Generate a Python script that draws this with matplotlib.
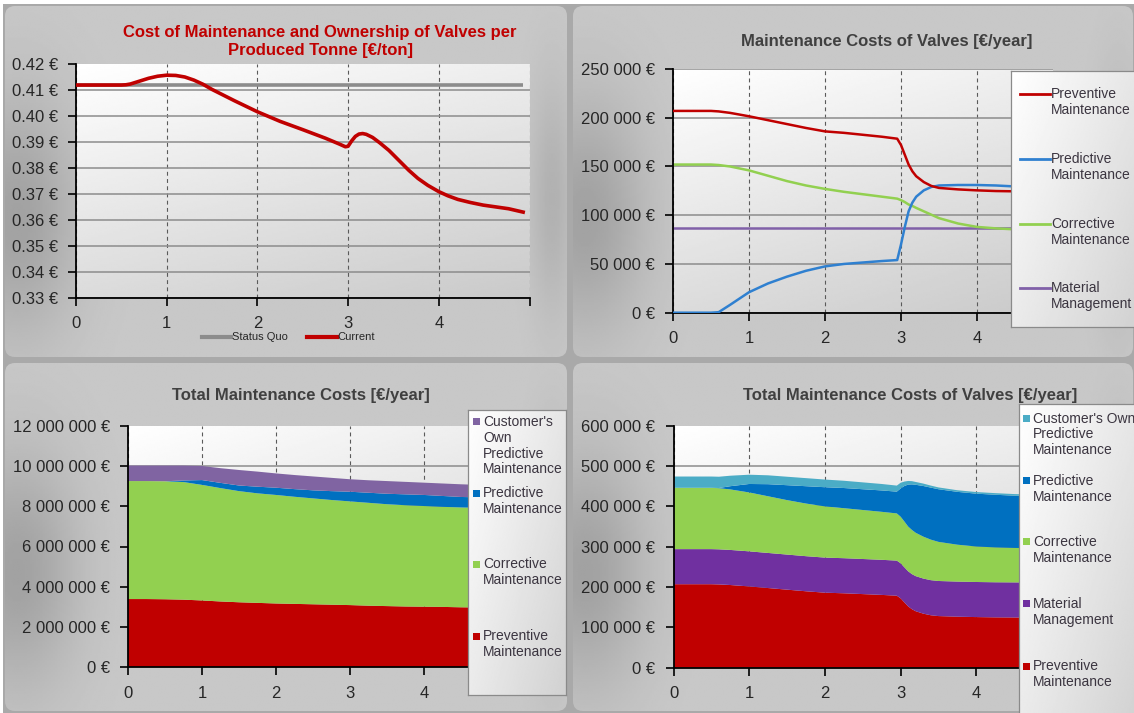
import numpy as np
import matplotlib.pyplot as plt
from matplotlib.patches import FancyBboxPatch, Rectangle
from matplotlib.lines import Line2D
from matplotlib.ticker import FuncFormatter

plt.rcParams['font.family'] = ['Liberation Sans', 'DejaVu Sans']

W, H = 1134, 713

# ------------------------------------------------------------------
# Data
# ------------------------------------------------------------------
# cost per produced tonne [EUR/ton]
t_tonne = [0, 0.25, 0.5, 0.55, 0.6, 0.7, 0.8, 0.9, 1.0, 1.1, 1.2, 1.3,
           1.4, 1.5, 1.75, 2.0, 2.25, 2.5, 2.75, 2.9, 2.97, 3.0, 3.04, 3.08,
           3.12, 3.16, 3.2, 3.27, 3.35, 3.45, 3.57, 3.67, 3.77, 3.88, 4.0,
           4.1, 4.21, 4.35, 4.49, 4.63, 4.77, 4.93]
current_tonne = [0.412, 0.412, 0.412, 0.4121, 0.4124, 0.4135, 0.4146,
                 0.4154, 0.4158, 0.4157, 0.4151, 0.4139, 0.4123, 0.4103,
                 0.4059, 0.4017, 0.398, 0.3948, 0.3915, 0.3893, 0.3882,
                 0.3884, 0.3905, 0.3922, 0.3931, 0.3933, 0.3930, 0.3918,
                 0.3897, 0.3868, 0.3826, 0.3791, 0.3760, 0.3733, 0.3709,
                 0.3693, 0.3679, 0.3667, 0.3657, 0.3650, 0.3643, 0.3630]
t_status_quo = [0, 4.93]
status_quo_tonne = [0.412, 0.412]

# valve maintenance costs [EUR/year]
t_valves = [0, 0.25, 0.5, 0.6, 0.75, 1.0, 1.25, 1.5, 1.75, 2.0, 2.25, 2.5,
            2.75, 2.95, 3.0, 3.05, 3.1, 3.15, 3.2, 3.3, 3.4, 3.5, 3.75, 4.0,
            4.25, 4.5, 4.75, 4.95]
preventive_valves = [207000, 207000, 207000, 206500, 205000, 201500, 197500,
                     193500, 189500, 186000, 184500, 182500, 180500, 178500,
                     172000, 162000, 152000, 145000, 140000, 134000, 130000,
                     128000, 126500, 125500, 124800, 124500, 124300, 124200]
predictive_valves = [0, 0, 0, 500, 8000, 21000, 30000, 37000, 43000, 47500,
                     50000, 51500, 53000, 54000, 70000, 88000, 104000, 113000,
                     119000, 125500, 129000, 130500, 131000, 131000, 130500,
                     129500, 129000, 129000]
corrective_valves = [152000, 152000, 152000, 151500, 150000, 146000, 140500,
                     135000, 130500, 127000, 124000, 121500, 119000, 117000,
                     115500, 113500, 111000, 109500, 107500, 104000, 100500,
                     97000, 91500, 88000, 86500, 85500, 85000, 84800]
material_valves = [87000, 87000, 87000, 87000, 87000, 87000, 87000, 87000,
                   87000, 87000, 87000, 87000, 87000, 87000, 87000, 87000,
                   87000, 87000, 87000, 87000, 87000, 87000, 87000, 87000,
                   87000, 87000, 87000, 87000]
customer_own_valves = [28000, 28000, 28000, 28000, 26000, 23000, 22000, 21000,
                       20000, 19000, 18000, 17000, 16000, 15000, 14000, 11000,
                       9000, 8000, 7000, 6000, 5000, 4500, 4000, 4000, 4000,
                       4000, 4000, 4000]

# total maintenance costs [EUR/year]
t_total = [0, 0.25, 0.5, 0.75, 1.0, 1.25, 1.5, 1.75, 2.0, 2.25, 2.5, 2.75,
           3.0, 3.25, 3.5, 3.75, 4.0, 4.25, 4.5, 4.75, 4.95]
preventive_total = [3.39e6, 3.39e6, 3.38e6, 3.36e6, 3.32e6, 3.27e6, 3.23e6,
                    3.20e6, 3.17e6, 3.15e6, 3.13e6, 3.11e6, 3.09e6, 3.06e6,
                    3.04e6, 3.02e6, 3.01e6, 3.00e6, 2.98e6, 2.97e6, 2.96e6]
corrective_total = [5.86e6, 5.86e6, 5.86e6, 5.84e6, 5.74e6, 5.63e6, 5.52e6,
                    5.44e6, 5.39e6, 5.32e6, 5.26e6, 5.20e6, 5.15e6, 5.11e6,
                    5.06e6, 5.03e6, 5.00e6, 4.97e6, 4.96e6, 4.95e6, 4.94e6]
predictive_total = [0, 0, 0, 0.08e6, 0.24e6, 0.26e6, 0.28e6, 0.33e6, 0.36e6,
                    0.38e6, 0.40e6, 0.44e6, 0.48e6, 0.50e6, 0.52e6, 0.54e6,
                    0.55e6, 0.54e6, 0.52e6, 0.52e6, 0.52e6]
customer_own_total = [0.77e6, 0.77e6, 0.78e6, 0.74e6, 0.70e6, 0.73e6, 0.77e6,
                      0.75e6, 0.71e6, 0.70e6, 0.69e6, 0.66e6, 0.62e6, 0.62e6,
                      0.63e6, 0.62e6, 0.61e6, 0.62e6, 0.63e6, 0.62e6, 0.62e6]

RED = '#c00000'
GREEN = '#92d050'
BLUE_LINE = '#2f80d0'
BLUE = '#0070c0'
PURPLE_LINE = '#8060a8'
PURPLE = '#7030a0'
PURPLE_LIGHT = '#8064a2'
TEAL = '#4bacc6'
TEXT = '#262626'
TITLE = '#404040'
LEG_TEXT = '#3b3540'


def frect(x0, y0, x1, y1):
    """pixel box (top-left origin) -> figure fraction rect"""
    return [x0 / W, 1 - y1 / H, (x1 - x0) / W, (y1 - y0) / H]


def euro_thousands(v, _):
    return f"{int(round(v)):,}".replace(",", " ") + " €"


fig = plt.figure(figsize=(W / 100, H / 100), dpi=100, facecolor='white')
fig.add_artist(Rectangle((3 / W, 0), 1, 1 - 4 / H, transform=fig.transFigure,
                         facecolor='#a9a9a9', edgecolor='none', zorder=-10))


def draw_panel(x0, y0, x1, y1):
    bg = fig.add_axes(frect(x0, y0, x1, y1), zorder=0)
    w, h = x1 - x0, y1 - y0
    u = np.linspace(0, 1, 300)
    v = np.linspace(0, 1, 200)
    U, V = np.meshgrid(u, v)
    g = (0.785
         - 0.15 * np.exp(-((U - 0.02) / 0.11) ** 2) * np.exp(-((V - 0.6) / 0.34) ** 2)
         - 0.09 * np.exp(-((U - 0.975) / 0.04) ** 2) * np.exp(-((V - 0.55) / 0.34) ** 2))
    im = bg.imshow(g, cmap='gray', vmin=0, vmax=1, extent=[0, w, h, 0],
                   aspect='auto', interpolation='bilinear')
    box = FancyBboxPatch((0, 0), w, h, boxstyle='round,pad=0,rounding_size=10',
                         facecolor='none', edgecolor='none')
    bg.add_patch(box)
    im.set_clip_path(box)
    bg.set_xlim(0, w)
    bg.set_ylim(h, 0)
    bg.axis('off')


def plot_axes(x0, y0, x1, y1):
    ax = fig.add_axes(frect(x0, y0, x1, y1), zorder=1)
    ax.set_facecolor('none')
    u = np.linspace(0, 1, 200)
    v = np.linspace(1, 0, 120)
    U, V = np.meshgrid(u, v)
    g = 1 - 0.14 * (1 - V) - 0.07 * U
    ax.imshow(g, cmap='gray', vmin=0, vmax=1, extent=[0, 1, 0, 1],
              transform=ax.transAxes, aspect='auto', zorder=-1,
              interpolation='bilinear')
    ax.set_axisbelow(True)
    for s in ('top', 'right'):
        ax.spines[s].set_visible(False)
    for s in ('left', 'bottom'):
        ax.spines[s].set_color('black')
        ax.spines[s].set_linewidth(1.3)
    ax.tick_params(axis='y', length=5.5, width=1.2, pad=7.5, labelsize=12,
                   labelcolor=TEXT)
    ax.tick_params(axis='x', length=5.5, width=1.2, pad=8, labelsize=12,
                   labelcolor=TEXT)
    ax.set_xlim(0, 5)
    ax.set_xticks([0, 1, 2, 3, 4, 5])
    ax.set_xticklabels(['0', '1', '2', '3', '4', ''])
    ax.yaxis.grid(True, color='#8c8c8c', linewidth=1.1)
    ax.xaxis.grid(True, color='#5a5a5a', linewidth=0.8, linestyle=(0, (3.5, 3)))
    return ax


def legend_box(x0, y0, x1, y1):
    lax = fig.add_axes(frect(x0, y0, x1, y1), zorder=3)
    u = np.linspace(0, 1, 100)
    v = np.linspace(0, 1, 200)
    U, V = np.meshgrid(u, v)
    g = 1 - 0.10 * U - 0.08 * V
    lax.imshow(g, cmap='gray', vmin=0, vmax=1, extent=[x0, x1, y1, y0],
               aspect='auto', interpolation='bilinear')
    lax.set_xlim(x0, x1)
    lax.set_ylim(y1, y0)
    lax.set_xticks([])
    lax.set_yticks([])
    for s in lax.spines.values():
        s.set_color('#8a8a8a')
        s.set_linewidth(0.9)
    return lax


def legend_text(lax, x, y, label):
    n = label.count('\n') + 1
    lax.text(x, y + 8 * (n - 1), label, fontsize=10, color=LEG_TEXT,
             ha='left', va='center', linespacing=1.15)


# ------------------------------------------------------------------
# Panels
# ------------------------------------------------------------------
draw_panel(5, 6, 567, 357)
draw_panel(573, 6, 1133, 357)
draw_panel(5, 363, 567, 711)
draw_panel(573, 363, 1133, 711)

# --- top-left: cost per produced tonne --------------------------------
ax1 = plot_axes(76, 64.3, 76 + 5 * 90.7, 297.7)
ax1.plot(t_status_quo, status_quo_tonne, color='#8c8c8c', linewidth=2.6,
         zorder=2, solid_capstyle='butt')
ax1.plot(t_tonne, current_tonne, color=RED, linewidth=2.6, zorder=3)
ax1.set_ylim(0.33, 0.42)
ax1.set_yticks(np.arange(0.33, 0.4201, 0.01))
ax1.yaxis.set_major_formatter(FuncFormatter(lambda v, _: f"{v:.2f} €"))
ax1.yaxis.get_gridlines()[-1].set_visible(False)

fig.text(320 / W, 1 - 41.5 / H,
         "Cost of Maintenance and Ownership of Valves per\nProduced Tonne [€/ton]",
         ha='center', va='center', fontsize=12, fontweight='bold', color=RED,
         linespacing=1.3)

fig.add_artist(Line2D([202 / W, 231 / W], [1 - 337.3 / H] * 2,
                      color='#8c8c8c', linewidth=3, transform=fig.transFigure))
fig.text(232 / W, 1 - 337.3 / H, "Status Quo", fontsize=8, color=TEXT,
         ha='left', va='center')
fig.add_artist(Line2D([306.5 / W, 336.5 / W], [1 - 337.3 / H] * 2,
                      color=RED, linewidth=3, transform=fig.transFigure))
fig.text(337 / W, 1 - 337.3 / H, "Current", fontsize=8, color=TEXT,
         ha='left', va='center')

# --- top-right: maintenance costs of valves ---------------------------
ax2 = plot_axes(673, 69, 673 + 5 * 76, 312.7)
ax2.plot(t_valves, material_valves, color=PURPLE_LINE, linewidth=1.8, zorder=2)
ax2.plot(t_valves, corrective_valves, color=GREEN, linewidth=1.8, zorder=2)
ax2.plot(t_valves, predictive_valves, color=BLUE_LINE, linewidth=1.8, zorder=3)
ax2.plot(t_valves, preventive_valves, color=RED, linewidth=1.8, zorder=3)
ax2.set_ylim(0, 250000)
ax2.set_yticks(np.arange(0, 250001, 50000))
ax2.yaxis.set_major_formatter(FuncFormatter(euro_thousands))

fig.text(887 / W, 1 - 41.7 / H, "Maintenance Costs of Valves [€/year]",
         ha='center', va='center', fontsize=12, fontweight='bold', color=TITLE)

lg2 = legend_box(1011, 70.7, 1140, 326.7)
for y, col, lab in [(94.3, RED, "Preventive\nMaintenance"),
                    (159.3, BLUE_LINE, "Predictive\nMaintenance"),
                    (224.0, GREEN, "Corrective\nMaintenance"),
                    (288.3, PURPLE_LINE, "Material\nManagement")]:
    lg2.plot([1020, 1050], [y, y], color=col, linewidth=2)
    legend_text(lg2, 1051, y, lab)

# --- bottom-left: total maintenance costs -----------------------------
ax3 = plot_axes(128, 425.7, 128 + 5 * 74, 667.3)
ax3.stackplot(t_total, preventive_total, corrective_total, predictive_total,
              customer_own_total, colors=[RED, GREEN, BLUE, PURPLE_LIGHT],
              linewidth=0)
ax3.set_ylim(0, 12e6)
ax3.set_yticks(np.arange(0, 12e6 + 1, 2e6))
ax3.yaxis.set_major_formatter(FuncFormatter(euro_thousands))
ax3.yaxis.get_gridlines()[-1].set_visible(False)

fig.text(300.5 / W, 1 - 395.7 / H, "Total Maintenance Costs [€/year]",
         ha='center', va='center', fontsize=12, fontweight='bold', color=TITLE)

lg3 = legend_box(468, 410, 566, 695)
for y, col, lab in [(421.7, PURPLE_LIGHT, "Customer's\nOwn\nPredictive\nMaintenance"),
                    (493.3, BLUE, "Predictive\nMaintenance"),
                    (564.3, GREEN, "Corrective\nMaintenance"),
                    (636.0, RED, "Preventive\nMaintenance")]:
    lg3.add_patch(Rectangle((473, y - 3.5), 7, 7, facecolor=col, edgecolor='none'))
    legend_text(lg3, 483, y, lab)

# --- bottom-right: total maintenance costs of valves ------------------
ax4 = plot_axes(673.5, 425.7, 673.5 + 5 * 75.7, 667.7)
ax4.stackplot(t_valves, preventive_valves, material_valves, corrective_valves,
              predictive_valves, customer_own_valves,
              colors=[RED, PURPLE, GREEN, BLUE, TEAL], linewidth=0)
ax4.set_ylim(0, 600000)
ax4.set_yticks(np.arange(0, 600001, 100000))
ax4.yaxis.set_major_formatter(FuncFormatter(euro_thousands))
ax4.yaxis.get_gridlines()[-1].set_visible(False)

fig.text(910 / W, 1 - 395.7 / H, "Total Maintenance Costs of Valves [€/year]",
         ha='center', va='center', fontsize=12, fontweight='bold', color=TITLE)

lg4 = legend_box(1019, 404.3, 1140, 720)
for y, col, lab in [(418.3, TEAL, "Customer's Own\nPredictive\nMaintenance"),
                    (480.7, BLUE, "Predictive\nMaintenance"),
                    (541.7, GREEN, "Corrective\nMaintenance"),
                    (603.7, PURPLE, "Material\nManagement"),
                    (666.0, RED, "Preventive\nMaintenance")]:
    lg4.add_patch(Rectangle((1023, y - 3.5), 7, 7, facecolor=col, edgecolor='none'))
    legend_text(lg4, 1033, y, lab)

fig.savefig("out.png", dpi=100, facecolor=fig.get_facecolor())
